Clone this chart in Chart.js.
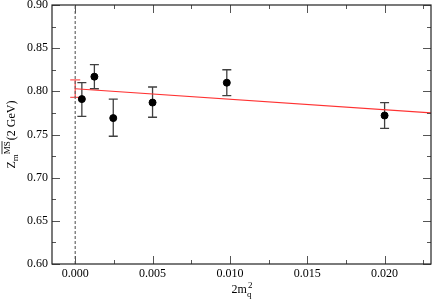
<!DOCTYPE html>
<html>
<head>
<meta charset="utf-8">
<script src="https://cdn.jsdelivr.net/npm/chart.js@4/dist/chart.umd.min.js"></script>
<style>
  body { margin: 0; background: #fff; }
  canvas { display: block; }
</style>
</head>
<body>
<canvas id="c" width="436" height="303"></canvas>
<script>
// lattice points: 2m_q^2 vs Z_m(2 GeV)
const mq2 = [0.00043, 0.00124, 0.00246, 0.0050, 0.0098, 0.0200];
const zm = [0.791, 0.817, 0.769, 0.787, 0.810, 0.772];
const zmHi = [0.810, 0.831, 0.791, 0.805, 0.825, 0.787];
const zmLo = [0.771, 0.803, 0.748, 0.770, 0.795, 0.757];

// linear fit and its chiral extrapolation
const fitX = [0, 0.023];
const fitY = [0.803, 0.775];
const extrapX = 0;
const extrapY = 0.803;
const extrapHi = 0.8132;
const extrapLo = 0.7930;

// dashed line at zero
const zeroX = [0, 0];
const zeroY = [0.60, 0.90];

const xTicks = [0, 0.005, 0.010, 0.015, 0.020];
const xTickLabels = ["0.000", "0.005", "0.010", "0.015", "0.020"];
const xMinor = [0.0025, 0.0075, 0.0125, 0.0175, 0.0225];
const yTicks = [0.60, 0.65, 0.70, 0.75, 0.80, 0.85, 0.90];
const yTickLabels = ["0.60", "0.65", "0.70", "0.75", "0.80", "0.85", "0.90"];
const yMinor = [0.625, 0.675, 0.725, 0.775, 0.825, 0.875];

const serif = "'Liberation Serif', 'DejaVu Serif', serif";

const errorBars = {
    id: "errorBars",
    beforeDatasetsDraw(chart) {
        const { ctx, scales: { x, y } } = chart;
        const cap = 4.5;
        ctx.save();
        ctx.lineWidth = 1.3;
        ctx.strokeStyle = "#404040";
        mq2.forEach((v, i) => {
            const px = x.getPixelForValue(v);
            const top = y.getPixelForValue(zmHi[i]);
            const bot = y.getPixelForValue(zmLo[i]);
            ctx.beginPath();
            ctx.moveTo(px, top); ctx.lineTo(px, bot);
            ctx.moveTo(px - cap, top); ctx.lineTo(px + cap, top);
            ctx.moveTo(px - cap, bot); ctx.lineTo(px + cap, bot);
            ctx.stroke();
        });
        // red extrapolated point
        const ex = x.getPixelForValue(extrapX);
        const et = y.getPixelForValue(extrapHi);
        const eb = y.getPixelForValue(extrapLo);
        ctx.strokeStyle = "rgba(255,60,60,0.85)";
        ctx.beginPath();
        ctx.moveTo(ex, et); ctx.lineTo(ex, eb);
        ctx.moveTo(ex - 5, et); ctx.lineTo(ex + 5, et);
        ctx.moveTo(ex - 5, eb); ctx.lineTo(ex + 5, eb);
        ctx.stroke();
        ctx.restore();
    }
};

const frame = {
    id: "frame",
    afterDraw(chart) {
        const { ctx, chartArea: a, scales: { x, y } } = chart;
        ctx.save();
        ctx.strokeStyle = "#555";
        ctx.lineWidth = 1;
        const tickX = (v, len) => {
            const p = Math.round(x.getPixelForValue(v)) + 0.5;
            ctx.beginPath();
            ctx.moveTo(p, a.bottom); ctx.lineTo(p, a.bottom - len);
            ctx.moveTo(p, a.top); ctx.lineTo(p, a.top + len);
            ctx.stroke();
        };
        const tickY = (v, len) => {
            const p = Math.round(y.getPixelForValue(v)) + 0.5;
            ctx.beginPath();
            ctx.moveTo(a.left, p); ctx.lineTo(a.left + len, p);
            ctx.moveTo(a.right, p); ctx.lineTo(a.right - len, p);
            ctx.stroke();
        };
        xTicks.forEach(v => tickX(v, 8));
        xMinor.forEach(v => tickX(v, 4));
        yTicks.forEach(v => tickY(v, 8));
        yMinor.forEach(v => tickY(v, 4));

        ctx.strokeStyle = "#222";
        ctx.lineWidth = 1.2;
        ctx.strokeRect(a.left, a.top, a.right - a.left, a.bottom - a.top);

        // x title: 2m_q^2
        ctx.fillStyle = "#000";
        ctx.textBaseline = "alphabetic";
        ctx.textAlign = "left";
        ctx.font = "12px " + serif;
        const w1 = ctx.measureText("2m").width;
        ctx.font = "9px " + serif;
        const w2 = ctx.measureText("q").width;
        let sx = (a.left + a.right) / 2 - (w1 + w2) / 2;
        ctx.font = "12px " + serif;
        ctx.fillText("2m", sx, 293);
        ctx.font = "9px " + serif;
        ctx.fillText("q", sx + w1, 297);
        ctx.fillText("2", sx + w1 + 1, 287.5);

        // y title: Z_m^{MS-bar}(2 GeV)
        ctx.translate(15, (a.top + a.bottom) / 2);
        ctx.rotate(-Math.PI / 2);
        ctx.font = "12px " + serif;
        const wz = ctx.measureText("Z").width;
        const wg = ctx.measureText("(2 GeV)").width;
        ctx.font = "9px " + serif;
        const wm = ctx.measureText("m").width;
        const wms = ctx.measureText("MS").width;
        let t = -(wz + wm + wms + wg + 1) / 2;
        ctx.font = "12px " + serif;
        ctx.fillText("Z", t, 0);
        t += wz;
        ctx.font = "9px " + serif;
        ctx.fillText("m", t, 3);
        t += wm;
        ctx.fillText("MS", t, -5);
        ctx.lineWidth = 0.8;
        ctx.strokeStyle = "#000";
        ctx.beginPath();
        ctx.moveTo(t, -13); ctx.lineTo(t + wms, -13);
        ctx.stroke();
        t += wms + 1;
        ctx.font = "12px " + serif;
        ctx.fillText("(2 GeV)", t, 0);
        ctx.restore();
    }
};

new Chart(document.getElementById("c"), {
    data: {
        datasets: [
            {
                type: "scatter",
                data: mq2.map((v, i) => ({ x: v, y: zm[i] })),
                backgroundColor: "#000",
                borderColor: "#000",
                pointRadius: 3.5
            },
            {
                type: "line",
                data: fitX.map((v, i) => ({ x: v, y: fitY[i] })),
                borderColor: "rgb(255,50,50)",
                borderWidth: 1.1,
                pointRadius: 0
            },
            {
                type: "line",
                data: zeroX.map((v, i) => ({ x: v, y: zeroY[i] })),
                borderColor: "#666",
                borderWidth: 1.2,
                borderDash: [3, 2],
                pointRadius: 0
            }
        ]
    },
    options: {
        responsive: false,
        animation: false,
        devicePixelRatio: 1,
        layout: { padding: { top: 5, right: 3, left: 0, bottom: 0 } },
        plugins: { legend: { display: false }, tooltip: { enabled: false } },
        scales: {
            x: {
                type: "linear",
                min: -0.0015,
                max: 0.023,
                grid: { display: false, drawTicks: false },
                border: { display: false },
                afterBuildTicks: s => { s.ticks = xTicks.map(v => ({ value: v })); },
                afterFit: s => { s.height = 39; s.paddingLeft = 0; s.paddingRight = 0; },
                ticks: {
                    autoSkip: false,
                    maxRotation: 0,
                    padding: 3,
                    color: "#000",
                    font: { family: serif, size: 12 },
                    callback: (v, i) => xTickLabels[i]
                }
            },
            y: {
                type: "linear",
                min: 0.60,
                max: 0.90,
                grid: { display: false, drawTicks: false },
                border: { display: false },
                afterBuildTicks: s => { s.ticks = yTicks.map(v => ({ value: v })); },
                afterFit: s => { s.width = 52; s.paddingTop = 0; s.paddingBottom = 0; },
                ticks: {
                    autoSkip: false,
                    padding: 4,
                    color: "#000",
                    font: { family: serif, size: 12 },
                    callback: (v, i) => yTickLabels[i]
                }
            }
        }
    },
    plugins: [errorBars, frame]
});
</script>
</body>
</html>
